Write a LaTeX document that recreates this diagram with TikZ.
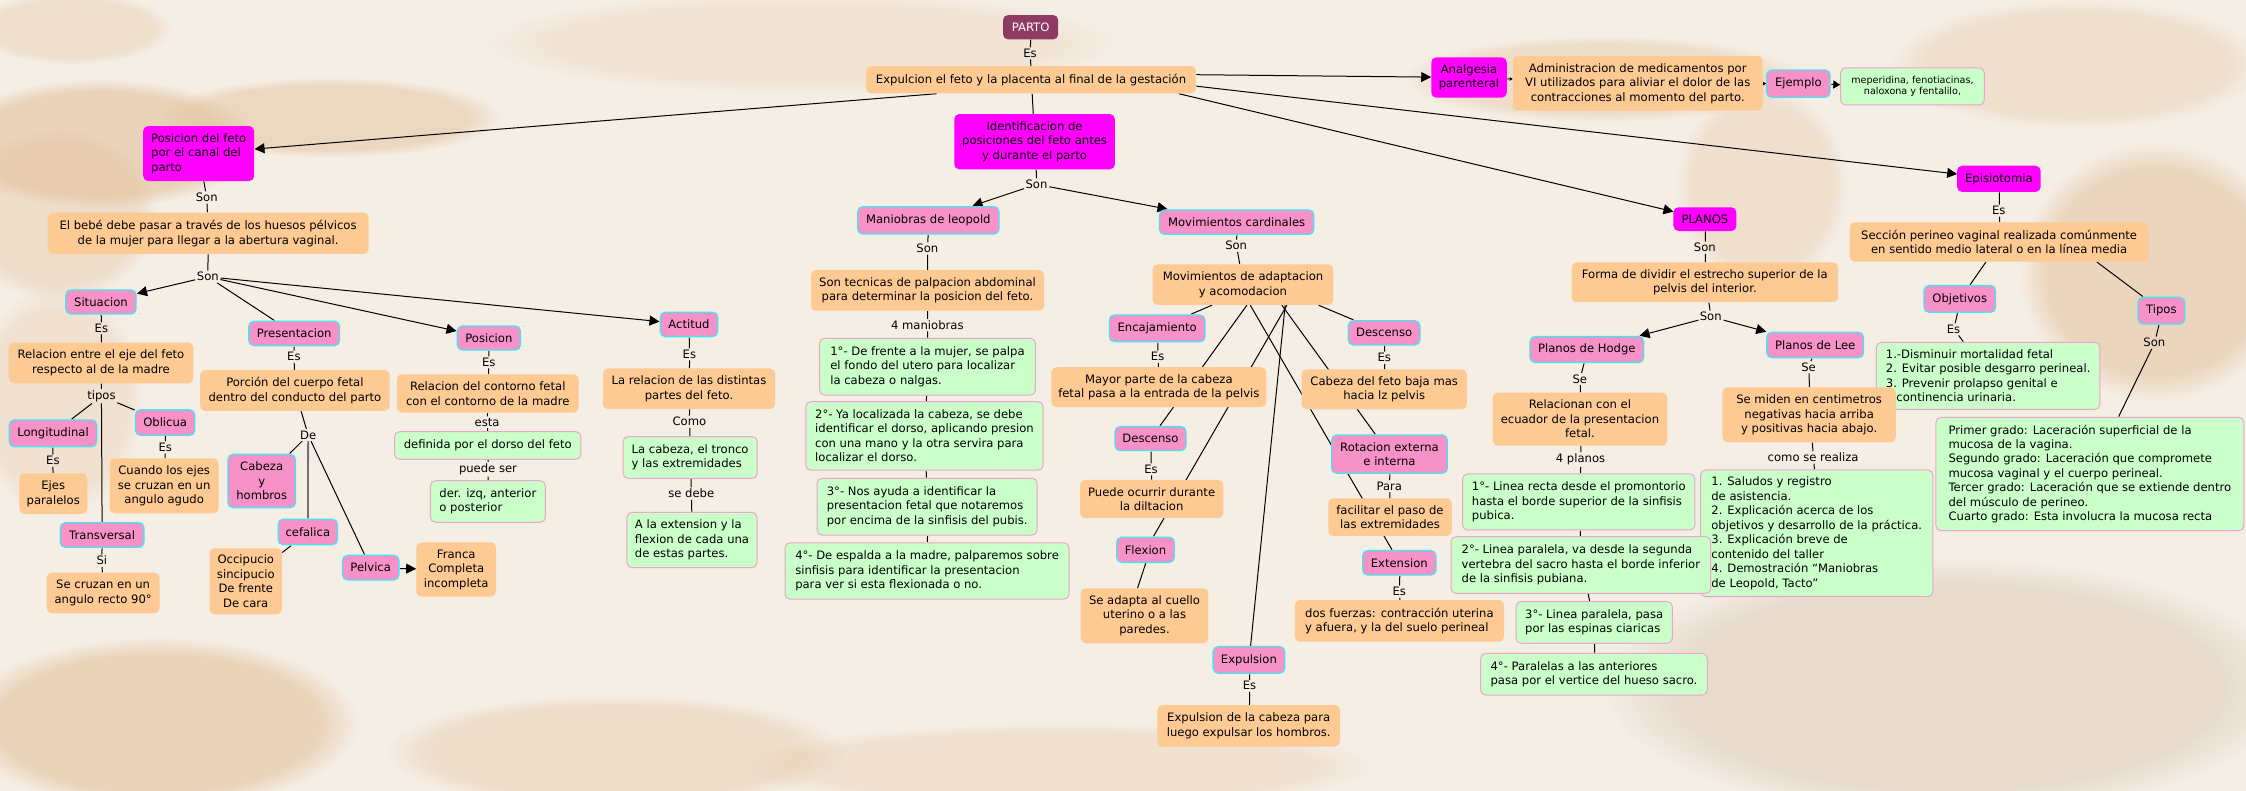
\documentclass[tikz,border=0pt]{standalone}
\usepackage{fontspec}
\setmainfont{DejaVu Sans}
\usetikzlibrary{arrows.meta,calc,fadings}
\pgfdeclarelayer{edges}
\pgfsetlayers{edges,main}
\definecolor{orgc}{RGB}{254,202,148}
\definecolor{magc}{RGB}{255,0,255}
\definecolor{pnkc}{RGB}{247,146,200}
\definecolor{cyanc}{RGB}{72,226,240}
\definecolor{grnc}{RGB}{202,255,202}
\definecolor{gbord}{RGB}{238,164,204}
\definecolor{plum}{RGB}{142,58,98}
\definecolor{paper}{RGB}{245,238,229}
\definecolor{stain}{RGB}{226,190,150}
\definecolor{stainb}{RGB}{210,192,172}
\newcommand\mfont{\fontsize{8.1}{10.1}\selectfont}
\newcommand\sfont{\fontsize{6.7}{8.1}\selectfont}
\tikzset{
  box/.style={rounded corners=5pt, inner xsep=4pt, inner ysep=2pt, align=center, font=\mfont, text=black},
  org/.style={box, fill=orgc},
  mag/.style={box, fill=magc},
  plumb/.style={box, fill=plum, text=white},
  pnk/.style={box, fill=pnkc, draw=cyanc, line width=1.3pt},
  grn/.style={box, fill=grnc, draw=gbord, line width=1pt, align=left},
  lbl/.style={inner sep=1pt, font=\mfont},
  con/.style={draw=black, line width=1pt},
  arr/.style={con, -{Triangle[length=10pt,width=10pt]}},
  marr/.style={con, -{Triangle[length=7pt,width=8pt]}},
  sarr/.style={con, -{Triangle[length=3pt,width=3.5pt]}},
  sz/.style 2 args={minimum width=#1pt, minimum height=#2pt},
  blot/.style={fill=stain, path fading=circle with fuzzy edge 20 percent, fill opacity=#1},
  blotb/.style={fill=stainb, path fading=circle with fuzzy edge 20 percent, fill opacity=#1}
}
\begin{document}
\begin{tikzpicture}[x=1pt,y=-1pt,scale=1.4324,every node/.append style={transform shape}]
\useasboundingbox (0,0) rectangle (1568,552);
% ---------- top ----------
\node[plumb, sz={38.5}{17}] (parto) at (719.5,19) {PARTO};
\node[lbl] (es0) at (719.1,37.2) {Es};
\node[org, sz={230.2}{19.1}] (exp) at (719.8,55.65) {Expulcion el feto y la placenta al final de la gestación};
\node[mag, sz={112.1}{38.6}] (ident) at (722.25,98.9) {Identificacion de\\posiciones del feto antes\\y durante el parto};
\node[lbl] (son0) at (723.6,128.7) {Son};
\node[pnk, sz={98.6}{19.1}] (manio) at (648.1,153.85) {Maniobras de leopold};
\node[pnk, sz={107.7}{17}] (movc) at (863.35,155.1) {Movimientos cardinales};
\node[mag, sz={52.7}{28.2}] (analg) at (1025.55,54.1) {Analgesia\\parenteral};
\node[org, sz={174.5}{38.2}] (admin) at (1143.35,58.2) {Administracion de medicamentos por\\VI utilizados para aliviar el dolor de las\\contracciones al momento del parto.};
\node[pnk, sz={44.2}{19}] (ejem) at (1255.5,58.4) {Ejemplo};
\node[grn, sz={100.3}{26}, font=\sfont, align=center] (meper) at (1335.15,60.3) {meperidina, fenotiacinas,\\naloxona y fentalilo,};
\node[mag, sz={58.3}{18.3}] (episio) at (1395.45,124.85) {Episiotomia};
\node[mag, sz={43.9}{16.6}] (planos) at (1190.25,153) {PLANOS};
\node[mag, sz={77.5}{38.4}, align=left] (posf) at (138.7,107.2) {Posicion del feto\\por el canal del\\parto};
% ---------- left ----------
\node[lbl] (son1) at (144.3,137.8) {Son};
\node[org, sz={224}{28.8}] (bebe) at (145.3,162.9) {El bebé debe pasar a través de los huesos pélvicos\\de la mujer para llegar a la abertura vaginal.};
\node[lbl] (son2) at (145.1,193.2) {Son};
\node[pnk, sz={49}{16.7}] (situ) at (70.5,210.8) {Situacion};
\node[lbl] (es1) at (70.8,229.2) {Es};
\node[org, sz={129}{28.4}] (releje) at (70.5,253.4) {Relacion entre el eje del feto\\respecto al de la madre};
\node[lbl] (tipos) at (70.8,276.5) {tipos};
\node[pnk, sz={61}{18.6}] (longi) at (37,302.5) {Longitudinal};
\node[lbl] (es2) at (36.9,321.6) {Es};
\node[org, sz={47.5}{28.3}] (ejes) at (37.2,344.6) {Ejes\\paralelos};
\node[pnk, sz={41.4}{17.7}] (obli) at (115.3,295) {Oblicua};
\node[lbl] (es3) at (115.4,312.3) {Es};
\node[org, sz={76}{38.4}] (cuando) at (114.6,339.2) {Cuando los ejes\\se cruzan en un\\angulo agudo};
\node[pnk, sz={58.3}{17.2}] (trans) at (71.3,373.5) {Transversal};
\node[lbl] (si) at (71.1,391.4) {Si};
\node[org, sz={78.8}{28.4}] (cruzan) at (72,414) {Se cruzan en un\\angulo recto 90°};
\node[pnk, sz={63.3}{17}] (pres) at (205.4,232.8) {Presentacion};
\node[lbl] (es4) at (205.2,249) {Es};
\node[org, sz={132.3}{28.6}] (porcion) at (205.9,272.6) {Porción del cuerpo fetal\\dentro del conducto del parto};
\node[lbl] (de) at (215.1,303.7) {De};
\node[pnk, sz={47}{37.2}] (cabeza) at (182.7,335.8) {Cabeza\\y\\hombros};
\node[pnk, sz={41.4}{17.7}] (cefa) at (214.9,371.4) {cefalica};
\node[org, sz={50.5}{46.1}] (occi) at (171.6,405.8) {Occipucio\\sincipucio\\De frente\\De cara};
\node[pnk, sz={39.3}{17.2}] (pelv) at (258.8,396.3) {Pelvica};
\node[org, sz={55.6}{38}] (franca) at (318.5,397.6) {Franca\\Completa\\incompleta};
\node[pnk, sz={44}{16.7}] (posi) at (341.3,236) {Posicion};
\node[lbl] (es5) at (341.2,253) {Es};
\node[org, sz={127}{26.8}] (relcont) at (340.5,274.7) {Relacion del contorno fetal\\con el contorno de la madre};
\node[lbl] (esta) at (340.1,294.8) {esta};
\node[grn, sz={130}{19.3}] (defin) at (340.5,311) {definida por el dorso del feto};
\node[lbl] (puede) at (340.7,327.6) {puede ser};
\node[grn, sz={80.2}{29}] (der) at (340.6,350.1) {der. izq, anterior\\o posterior};
\node[pnk, sz={40}{17}] (acti) at (481,226.5) {Actitud};
\node[lbl] (es6) at (481.3,247.4) {Es};
\node[org, sz={120.2}{28.3}] (relac) at (481,271.4) {La relacion de las distintas\\partes del feto.};
\node[lbl] (como) at (481.3,294.4) {Como};
\node[grn, sz={93.6}{29.2}] (lacab) at (481.8,319.4) {La cabeza, el tronco\\y las extremidades};
\node[lbl] (sedebe) at (482.6,344.6) {se debe};
\node[grn, sz={90.8}{38.6}] (alaext) at (483.1,377) {A la extension y la\\flexion de cada una\\de estas partes.};
% ---------- middle ----------
\node[lbl] (son3) at (647.4,173.4) {Son};
\node[org, sz={162.9}{28.4}] (tecn) at (647.5,202.7) {Son tecnicas de palpacion abdominal\\para determinar la posicion del feto.};
\node[lbl] (cuatro) at (647.4,226.9) {4 maniobras};
\node[grn, sz={150.7}{39.6}] (m1) at (647.5,256) {1°- De frente a la mujer, se palpa\\el fondo del utero para localizar\\la cabeza o nalgas.};
\node[grn, sz={165.7}{47.7}] (m2) at (645.4,304.3) {2°- Ya localizada la cabeza, se debe\\identificar el dorso, aplicando presion\\con una mano y la otra servira para\\localizar el dorso.};
\node[grn, sz={153.6}{39.6}] (m3) at (647.3,353.7) {3°- Nos ayuda a identificar la\\presentacion fetal que notaremos\\por encima de la sinfisis del pubis.};
\node[grn, sz={198.3}{39.3}] (m4) at (647.2,398.6) {4°- De espalda a la madre, palparemos sobre\\sinfisis para identificar la presentacion\\para ver si esta flexionada o no.};
\node[lbl] (son4) at (863,171.5) {Son};
\node[org, sz={126.1}{28.3}] (mova) at (867.75,198.7) {Movimientos de adaptacion\\y acomodacion};
\node[pnk, sz={66.7}{18.6}] (encaj) at (807.85,229.2) {Encajamiento};
\node[lbl] (es7) at (808.2,249) {Es};
\node[org, sz={150}{27.9}] (mayor) at (809,270.3) {Mayor parte de la cabeza\\fetal pasa a la entrada de la pelvis};
\node[pnk, sz={49.6}{16.7}] (descl) at (803.2,306.2) {Descenso};
\node[lbl] (es8) at (803.5,327.6) {Es};
\node[org, sz={100}{26.7}] (puede2) at (804,348.4) {Puede ocurrir durante\\la diltacion};
\node[pnk, sz={40.2}{17.6}] (flex) at (799.7,383.8) {Flexion};
\node[org, sz={89.2}{38.4}] (adapta) at (799,429.9) {Se adapta al cuello\\uterino o a las\\paredes.};
\node[pnk, sz={50}{16.9}] (descr) at (966.3,232.35) {Descenso};
\node[lbl] (es9) at (966.4,249.7) {Es};
\node[org, sz={115.3}{28}] (cabfeto) at (966.35,271.8) {Cabeza del feto baja mas\\hacia lz pelvis};
\node[pnk, sz={80.7}{26.7}] (rota) at (970.05,317.05) {Rotacion externa\\e interna};
\node[lbl] (para) at (969.9,339.3) {Para};
\node[org, sz={86.2}{26.3}] (facil) at (970.4,361) {facilitar el paso de\\las extremidades};
\node[pnk, sz={51.2}{17}] (ext) at (976.9,392.9) {Extension};
\node[lbl] (es10) at (976.9,413) {Es};
\node[org, sz={146.1}{29.1}, align=left] (fuerzas) at (976.95,433.45) {dos fuerzas: contracción uterina\\y afuera, y la del suelo perineal};
\node[pnk, sz={50}{18.6}] (expu) at (871.9,460.7) {Expulsion};
\node[lbl] (es11) at (872.3,478.7) {Es};
\node[org, sz={127.5}{29.1}] (expcab) at (871.75,506.75) {Expulsion de la cabeza para\\luego expulsar los hombros.};
% ---------- right ----------
\node[lbl] (es12) at (1395.4,147) {Es};
\node[org, sz={208.7}{27.5}] (secc) at (1395.65,168.95) {Sección perineo vaginal realizada comúnmente\\en sentido medio lateral o en la línea media};
\node[pnk, sz={49.9}{18.6}] (objet) at (1368.15,208.7) {Objetivos};
\node[lbl] (es13) at (1363.8,229.9) {Es};
\node[grn, sz={156}{46.8}] (dism) at (1388,262.4) {1.-Disminuir mortalidad fetal\\2. Evitar posible desgarro perineal.\\3. Prevenir prolapso genital e\\incontinencia urinaria.};
\node[pnk, sz={32.6}{18.6}] (tipos2) at (1508.9,216.9) {Tipos};
\node[lbl] (son7) at (1504,239.2) {Son};
\node[grn, sz={214.9}{79.2}] (grado) at (1459,330.9) {Primer grado: Laceración superficial de la\\mucosa de la vagina.\\Segundo grado: Laceración que compromete\\mucosa vaginal y el cuerpo perineal.\\Tercer grado: Laceración que se extiende dentro\\del músculo de perineo.\\Cuarto grado: Esta involucra la mucosa recta};
\node[lbl] (son5) at (1190.2,172.9) {Son};
\node[org, sz={186}{27.9}] (forma) at (1190.2,197.05) {Forma de dividir el estrecho superior de la\\pelvis del interior.};
\node[lbl] (son6) at (1194.3,221.1) {Son};
\node[pnk, sz={79.4}{18}] (hodge) at (1107.8,244) {Planos de Hodge};
\node[pnk, sz={67.5}{17.7}] (lee) at (1267.25,240.85) {Planos de Lee};
\node[lbl] (se1) at (1102.9,264.6) {Se};
\node[org, sz={122}{37}] (relac2) at (1103,292.6) {Relacionan con el\\ecuador de la presentacion\\fetal.};
\node[lbl] (planos4) at (1103.4,320.7) {4 planos};
\node[lbl] (se2) at (1262.6,256.4) {Se};
\node[org, sz={121}{38.4}] (miden) at (1263,289.6) {Se miden en centimetros\\negativas hacia arriba\\y positivas hacia abajo.};
\node[lbl] (como2) at (1265.8,319.3) {como se realiza};
\node[grn, sz={162}{88.5}] (salud) at (1268.3,372.35) {1. Saludos y registro\\de asistencia.\\2. Explicación acerca de los\\objetivos y desarrollo de la práctica.\\3. Explicación breve de\\contenido del taller\\4. Demostración “Maniobras\\de Leopold, Tacto”};
\node[grn, sz={162.2}{39.1}] (l1) at (1102.2,350.45) {1°- Linea recta desde el promontorio\\hasta el borde superior de la sinfisis\\pubica.};
\node[grn, sz={181.3}{39.5}] (l2) at (1103.65,394.45) {2°- Linea paralela, va desde la segunda\\vertebra del sacro hasta el borde inferior\\de la sinfisis pubiana.};
\node[grn, sz={109.1}{29.1}] (l3) at (1112.95,434.55) {3°- Linea paralela, pasa\\por las espinas ciaricas};
\node[grn, sz={158.2}{29.1}] (l4) at (1112.8,470.65) {4°- Paralelas a las anteriores\\pasa por el vertice del hueso sacro.};

\begin{pgfonlayer}{edges}
% background paper
\fill[paper] (0,0) rectangle (1568,552);
\fill[blot=0.55] (70,100) ellipse [x radius=110, y radius=45];
\fill[blot=0.45] (230,82) ellipse [x radius=120, y radius=28];
\fill[blot=0.35] (40,150) ellipse [x radius=70, y radius=60];
\fill[blot=0.30] (50,20) ellipse [x radius=70, y radius=25];
\fill[blot=0.35] (1120,55) ellipse [x radius=140, y radius=30];
\fill[blot=0.30] (1230,130) ellipse [x radius=60, y radius=70];
\fill[blot=0.50] (1505,190) ellipse [x radius=95, y radius=90];
\fill[blot=0.30] (1450,45) ellipse [x radius=130, y radius=45];
\fill[blot=0.55] (110,505) ellipse [x radius=140, y radius=60];
\fill[blot=0.35] (430,525) ellipse [x radius=160, y radius=40];
\fill[blot=0.25] (740,535) ellipse [x radius=220, y radius=30];
\fill[blotb=0.40] (1360,480) ellipse [x radius=240, y radius=90];
\fill[blot=0.20] (560,30) ellipse [x radius=220, y radius=35];
\fill[blot=0.25] (40,280) ellipse [x radius=60, y radius=80];
% top connections
\draw[con] (parto) -- (es0) (es0) -- (exp);
\draw[con] (exp) -- (ident);
\draw[con] (ident) -- (son0);
\draw[arr] (son0) -- (manio);
\draw[arr] (son0) -- (movc);
\draw[arr] ($(exp.east)+(0,-3.5)$) -- (analg);
\draw[sarr] (analg) -- (admin);
\draw[sarr] (admin) -- (ejem);
\draw[marr] (ejem) -- (meper);
\draw[arr] ($(exp.east)+(0,4.5)$) -- (episio);
\draw[arr] ($(exp.south)+(103,0)$) -- (planos);
\draw[arr] ($(exp.south)+(-66,0)$) -- (posf);
% left connections
\draw[con] (posf) -- (son1) (son1) -- (bebe);
\draw[con] (bebe) -- (son2);
\draw[arr] (son2) -- (situ);
\draw[con] (son2) -- (pres);
\draw[arr] (son2) -- (posi);
\draw[arr] (son2) -- (acti);
\draw[con] (situ) -- (es1) (es1) -- (releje);
\draw[con] (releje) -- (tipos);
\draw[con] (tipos) -- (longi);
\draw[con] (tipos) -- (obli);
\draw[con] (tipos) -- (trans);
\draw[con] (longi) -- (es2) (es2) -- (ejes);
\draw[con] (obli) -- (es3) (es3) -- (cuando);
\draw[con] (trans) -- (si) (si) -- (cruzan);
\draw[con] (pres) -- (es4) (es4) -- (porcion);
\draw[con] (porcion) -- (de);
\draw[con] (de) -- (cabeza);
\draw[con, line width=1.8pt, black!55] (de) -- (cefa);
\draw[con] (de) -- (pelv);
\draw[con] (cefa) -- (occi);
\draw[arr] (pelv) -- (franca);
\draw[con] (posi) -- (es5) (es5) -- (relcont);
\draw[con] (relcont) -- (esta) (esta) -- (defin);
\draw[con] (defin) -- (puede) (puede) -- (der);
\draw[con] (acti) -- (es6) (es6) -- (relac);
\draw[con] (relac) -- (como) (como) -- (lacab);
\draw[con] (lacab) -- (sedebe) (sedebe) -- (alaext);
% middle connections
\draw[con] (manio) -- (son3) (son3) -- (tecn);
\draw[con] (tecn) -- (cuatro) (cuatro) -- (m1);
\draw[con] (m1) -- (m2);
\draw[con] (m2) -- (m3);
\draw[con] (m3) -- (m4);
\draw[con] (movc) -- (son4) (son4) -- (mova);
\draw[con] ($(mova.south)+(-21.85,0)$) -- (encaj);
\draw[con] ($(mova.south)+(52.65,0)$) -- (descr);
\draw[con] ($(mova.south)+(2.55,0)$) -- (descl);
\draw[con] ($(mova.south)+(30.5,0)$) -- (flex);
\draw[con] ($(mova.south)+(29.3,0)$) -- (expu);
\draw[con] ($(mova.south)+(27,0)$) -- (rota);
\draw[con] ($(mova.south)+(4.95,0)$) -- (ext);
\draw[con] (encaj) -- (es7) (es7) -- (mayor);
\draw[con] (descl) -- (es8) (es8) -- (puede2);
\draw[con] (flex.south) -- ($(adapta.north)+(-5,0)$);
\draw[con] (descr) -- (es9) (es9) -- (cabfeto);
\draw[con] (rota) -- (para) (para) -- (facil);
\draw[con] (ext) -- (es10) (es10) -- (fuerzas);
\draw[con] (expu) -- (es11) (es11) -- (expcab);
% right connections
\draw[con] (planos) -- (son5) (son5) -- (forma);
\draw[con] (forma) -- (son6);
\draw[arr] (son6) -- (hodge);
\draw[arr] (son6) -- (lee);
\draw[con] (hodge) -- (se1) (se1) -- (relac2);
\draw[con] (relac2) -- (planos4) (planos4) -- (l1);
\draw[con] (l1) -- (l2);
\draw[con] (l2) -- (l3);
\draw[con] (l3) -- (l4);
\draw[con] (lee) -- (se2) (se2) -- (miden);
\draw[con] (miden) -- (como2) (como2) -- (salud);
\draw[con] (episio) -- (es12) (es12) -- (secc);
\draw[con] (secc) -- (objet);
\draw[con] ($(secc.south)+(68,0)$) -- (tipos2);
\draw[con] (objet) -- (es13) (es13) -- (dism);
\draw[con] (tipos2) -- (son7) (son7) -- (grado);
\end{pgfonlayer}
\end{tikzpicture}
\end{document}
